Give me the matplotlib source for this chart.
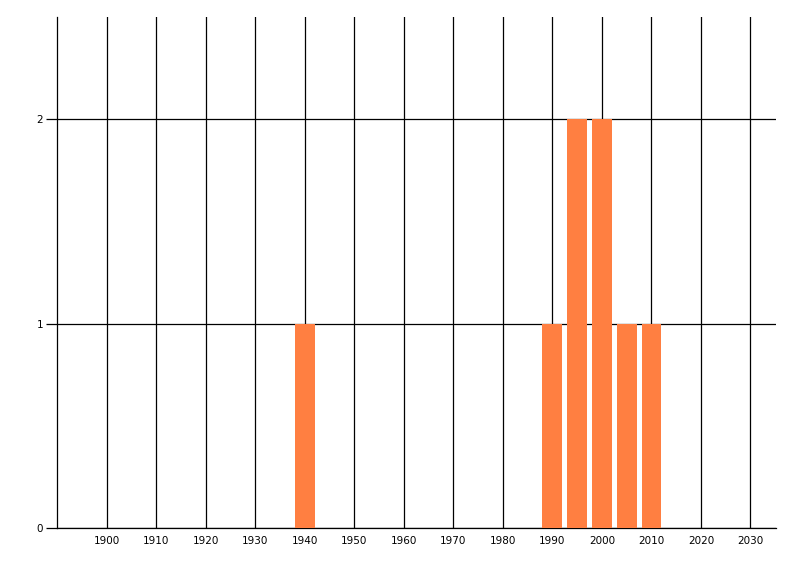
import matplotlib
matplotlib.use('Agg')
import matplotlib.pyplot as plt

# histogram-style counts per 5-year bin
years = [1940, 1990, 1995, 2000, 2005, 2010]
counts = [1, 1, 2, 2, 1, 1]
x_ticks = list(range(1900, 2031, 10))
y_ticks = [0, 1, 2]

BAR_COLOR = '#FF7F41'

fig = plt.figure(figsize=(8, 5.76), dpi=100)
ax = fig.add_axes([0.0713, 0.0833, 0.8984, 0.8872])

ax.bar(years, counts, width=4, color=BAR_COLOR, zorder=3)

ax.set_xlim(1890, 2035.1)
ax.set_ylim(0, 2.5)
ax.set_xticks(x_ticks)
ax.set_yticks(y_ticks)

ax.grid(True, color='black', linewidth=0.9, zorder=0)
ax.set_axisbelow(True)

for side in ('top', 'right'):
    ax.spines[side].set_visible(False)
for side in ('left', 'bottom'):
    ax.spines[side].set_linewidth(0.9)

ax.tick_params(axis='x', length=0, pad=6, labelsize=7.5)
ax.tick_params(axis='y', length=8, width=0.9, pad=2, labelsize=7.5)

fig.savefig('out.png', dpi=100)
